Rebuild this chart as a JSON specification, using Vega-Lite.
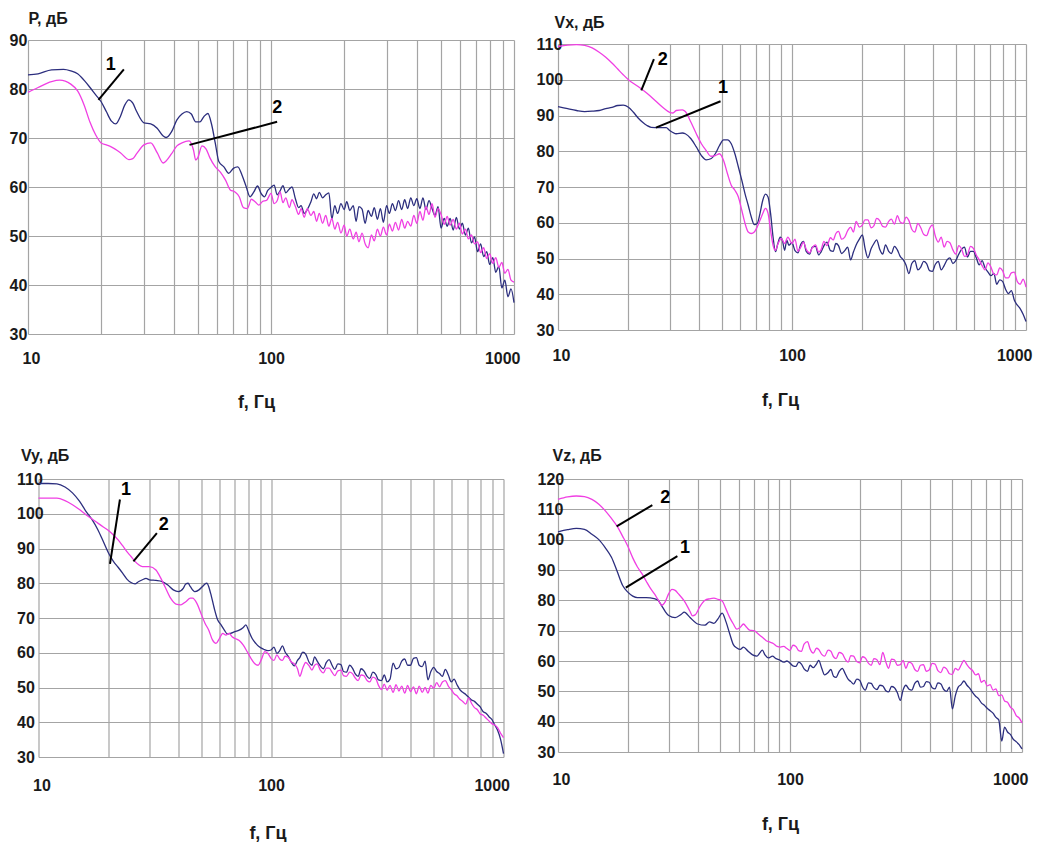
{
"$schema": "https://vega.github.io/schema/vega-lite/v6.json",
"background": "white",
"padding": {"left": 9, "top": 10, "right": 4, "bottom": 0},
"columns": 2,
"spacing": {"column": 44, "row": 145},
"bounds": "flush",
"center": true,
"config": {
 "font": "Liberation Sans",
 "view": {"stroke": null},
 "axis": {"domain": false, "ticks": false, "tickSize": 0, "grid": true, "gridColor": "#a4a4a4", "gridWidth": 1.2, "labelFont": "Liberation Sans", "labelFontSize": 16, "labelFontWeight": "bold", "labelColor": "#1a1a1a", "titleFont": "Liberation Sans", "titleFontSize": 16, "titleFontWeight": "bold", "titleColor": "#1a1a1a", "labelOverlap": false},
 "axisX": {"labelBaseline": "middle", "labelFlush": true, "labelFlushOffset": 6, "titleBaseline": "middle", "titleAlign": "center", "titleFontSize": 18, "labelOverlap": false},
 "axisY": {"labelAlign": "left", "labelBaseline": "middle", "titleAngle": 0, "titleAlign": "left", "titleBaseline": "middle", "labelFlush": false, "labelOverlap": false}
},
"datasets": {
"p": [
{"s":"1","f":10,"v":82.9},{"s":"1","f":11,"v":83.1},{"s":"1","f":12.5,"v":83.9},{"s":"1","f":14,"v":84.0},{"s":"1","f":15,"v":83.7},{"s":"1","f":16,"v":83.1},{"s":"1","f":17,"v":81.8},{"s":"1","f":18,"v":80.3},{"s":"1","f":19,"v":78.8},{"s":"1","f":20,"v":77.4},{"s":"1","f":21,"v":75.4},{"s":"1","f":22,"v":73.5},{"s":"1","f":23,"v":72.9},{"s":"1","f":24,"v":74.4},{"s":"1","f":25,"v":76.7},{"s":"1","f":26,"v":77.8},{"s":"1","f":27,"v":77.1},{"s":"1","f":28,"v":75.4},{"s":"1","f":30,"v":73.1},{"s":"1","f":32,"v":72.9},{"s":"1","f":34,"v":72.0},{"s":"1","f":36,"v":70.4},{"s":"1","f":37,"v":70.1},{"s":"1","f":39,"v":71.3},{"s":"1","f":41,"v":73.7},{"s":"1","f":43,"v":74.9},{"s":"1","f":45,"v":75.4},{"s":"1","f":47,"v":74.9},{"s":"1","f":49,"v":73.3},{"s":"1","f":51,"v":73.3},{"s":"1","f":53,"v":74.4},{"s":"1","f":55,"v":75.0},{"s":"1","f":57,"v":72.7},{"s":"1","f":59,"v":68.9},{"s":"1","f":61,"v":65.2},{"s":"1","f":64,"v":64.1},{"s":"1","f":67,"v":62.8},{"s":"1","f":70,"v":63.8},{"s":"1","f":73,"v":64.1},{"s":"1","f":76,"v":62.4},{"s":"1","f":79,"v":60.1},{"s":"1","f":82,"v":58.0},{"s":"1","f":85,"v":59.0},{"s":"1","f":88,"v":60.2},{"s":"1","f":91,"v":58.7},{"s":"1","f":94,"v":58.0},{"s":"1","f":97,"v":59.3},{"s":"1","f":100,"v":59.9},
{"s":"1","f":103,"v":60.4},{"s":"1","f":106,"v":58.4},{"s":"1","f":109,"v":59.2},{"s":"1","f":112,"v":60.3},{"s":"1","f":115,"v":58.8},{"s":"1","f":119,"v":59.6},{"s":"1","f":122,"v":60.0},{"s":"1","f":126,"v":57.6},{"s":"1","f":130,"v":55.8},{"s":"1","f":133,"v":56.2},{"s":"1","f":137,"v":54.6},{"s":"1","f":141,"v":55.4},{"s":"1","f":146,"v":57.0},{"s":"1","f":150,"v":58.6},{"s":"1","f":154,"v":57.6},{"s":"1","f":158,"v":58.9},{"s":"1","f":163,"v":57.8},{"s":"1","f":168,"v":58.4},{"s":"1","f":173,"v":58.8},{"s":"1","f":178,"v":53.5},{"s":"1","f":183,"v":56.2},{"s":"1","f":188,"v":54.6},{"s":"1","f":194,"v":56.6},{"s":"1","f":200,"v":55.4},{"s":"1","f":205,"v":57.0},{"s":"1","f":211,"v":55.2},{"s":"1","f":218,"v":56.2},{"s":"1","f":224,"v":53.0},{"s":"1","f":230,"v":56.0},{"s":"1","f":237,"v":55.5},{"s":"1","f":244,"v":52.6},{"s":"1","f":251,"v":55.2},{"s":"1","f":259,"v":54.0},{"s":"1","f":266,"v":55.8},{"s":"1","f":274,"v":53.4},{"s":"1","f":282,"v":55.6},{"s":"1","f":290,"v":52.8},{"s":"1","f":299,"v":56.2},{"s":"1","f":307,"v":54.6},{"s":"1","f":316,"v":56.6},{"s":"1","f":325,"v":55.2},{"s":"1","f":335,"v":57.2},{"s":"1","f":345,"v":55.4},{"s":"1","f":355,"v":57.4},{"s":"1","f":365,"v":55.6},{"s":"1","f":376,"v":57.8},{"s":"1","f":387,"v":56.2},{"s":"1","f":398,"v":57.6},{"s":"1","f":410,"v":55.6},{"s":"1","f":422,"v":57.8},{"s":"1","f":434,"v":55.4},{"s":"1","f":447,"v":57.2},{"s":"1","f":460,"v":55.6},{"s":"1","f":473,"v":54.2},{"s":"1","f":487,"v":56.0},{"s":"1","f":501,"v":51.6},{"s":"1","f":516,"v":53.6},{"s":"1","f":531,"v":52.0},{"s":"1","f":546,"v":53.6},{"s":"1","f":562,"v":51.2},{"s":"1","f":579,"v":53.8},{"s":"1","f":596,"v":51.4},{"s":"1","f":613,"v":52.6},{"s":"1","f":631,"v":50.2},{"s":"1","f":649,"v":51.6},{"s":"1","f":668,"v":48.6},{"s":"1","f":688,"v":49.8},{"s":"1","f":708,"v":46.8},{"s":"1","f":729,"v":48.4},{"s":"1","f":750,"v":45.8},{"s":"1","f":772,"v":46.8},{"s":"1","f":794,"v":44.2},{"s":"1","f":818,"v":45.6},{"s":"1","f":841,"v":42.6},{"s":"1","f":866,"v":43.8},{"s":"1","f":891,"v":39.4},{"s":"1","f":917,"v":41.0},{"s":"1","f":944,"v":37.6},{"s":"1","f":972,"v":39.2},{"s":"1","f":1000,"v":36.4},
{"s":"2","f":10,"v":79.3},{"s":"2","f":11,"v":80.3},{"s":"2","f":12.5,"v":81.5},{"s":"2","f":13.5,"v":81.8},{"s":"2","f":15,"v":81.0},{"s":"2","f":16,"v":79.6},{"s":"2","f":17,"v":76.8},{"s":"2","f":18,"v":73.2},{"s":"2","f":19,"v":70.6},{"s":"2","f":20,"v":69.0},{"s":"2","f":21,"v":68.6},{"s":"2","f":22,"v":68.2},{"s":"2","f":24,"v":67.0},{"s":"2","f":26,"v":65.6},{"s":"2","f":27,"v":65.8},{"s":"2","f":28,"v":66.8},{"s":"2","f":30,"v":68.6},{"s":"2","f":32,"v":69.0},{"s":"2","f":34,"v":67.0},{"s":"2","f":36,"v":64.9},{"s":"2","f":37,"v":65.3},{"s":"2","f":39,"v":66.8},{"s":"2","f":41,"v":68.4},{"s":"2","f":43,"v":69.0},{"s":"2","f":46,"v":69.4},{"s":"2","f":48,"v":67.5},{"s":"2","f":49,"v":65.5},{"s":"2","f":50,"v":66.0},{"s":"2","f":52,"v":68.4},{"s":"2","f":54,"v":67.8},{"s":"2","f":56,"v":66.0},{"s":"2","f":59,"v":64.1},{"s":"2","f":62,"v":63.0},{"s":"2","f":65,"v":61.4},{"s":"2","f":68,"v":59.4},{"s":"2","f":71,"v":59.0},{"s":"2","f":74,"v":58.0},{"s":"2","f":77,"v":55.8},{"s":"2","f":80,"v":55.6},{"s":"2","f":83,"v":57.5},{"s":"2","f":86,"v":57.0},{"s":"2","f":89,"v":56.3},{"s":"2","f":92,"v":57.0},{"s":"2","f":96,"v":57.3},{"s":"2","f":100,"v":58.7},
{"s":"2","f":103,"v":56.6},{"s":"2","f":106,"v":57.2},{"s":"2","f":109,"v":59.0},{"s":"2","f":112,"v":56.8},{"s":"2","f":115,"v":57.8},{"s":"2","f":119,"v":55.8},{"s":"2","f":122,"v":57.4},{"s":"2","f":126,"v":56.0},{"s":"2","f":130,"v":54.4},{"s":"2","f":133,"v":55.6},{"s":"2","f":137,"v":53.8},{"s":"2","f":141,"v":55.6},{"s":"2","f":146,"v":54.2},{"s":"2","f":150,"v":55.0},{"s":"2","f":154,"v":53.0},{"s":"2","f":158,"v":54.6},{"s":"2","f":163,"v":52.6},{"s":"2","f":168,"v":54.2},{"s":"2","f":173,"v":52.0},{"s":"2","f":178,"v":53.6},{"s":"2","f":183,"v":51.4},{"s":"2","f":188,"v":52.8},{"s":"2","f":194,"v":50.6},{"s":"2","f":200,"v":52.2},{"s":"2","f":205,"v":50.0},{"s":"2","f":211,"v":51.4},{"s":"2","f":218,"v":49.4},{"s":"2","f":224,"v":50.8},{"s":"2","f":230,"v":48.8},{"s":"2","f":237,"v":50.6},{"s":"2","f":244,"v":48.4},{"s":"2","f":251,"v":47.6},{"s":"2","f":259,"v":50.2},{"s":"2","f":266,"v":49.0},{"s":"2","f":274,"v":51.4},{"s":"2","f":282,"v":50.0},{"s":"2","f":290,"v":51.8},{"s":"2","f":299,"v":50.2},{"s":"2","f":307,"v":52.4},{"s":"2","f":316,"v":51.0},{"s":"2","f":325,"v":52.8},{"s":"2","f":335,"v":51.2},{"s":"2","f":345,"v":53.4},{"s":"2","f":355,"v":51.6},{"s":"2","f":365,"v":53.0},{"s":"2","f":376,"v":52.0},{"s":"2","f":387,"v":54.2},{"s":"2","f":398,"v":52.6},{"s":"2","f":410,"v":55.0},{"s":"2","f":422,"v":53.2},{"s":"2","f":434,"v":56.0},{"s":"2","f":447,"v":54.4},{"s":"2","f":460,"v":56.6},{"s":"2","f":473,"v":53.8},{"s":"2","f":487,"v":55.6},{"s":"2","f":501,"v":54.4},{"s":"2","f":516,"v":52.4},{"s":"2","f":531,"v":54.0},{"s":"2","f":546,"v":52.2},{"s":"2","f":562,"v":53.4},{"s":"2","f":579,"v":51.4},{"s":"2","f":596,"v":52.6},{"s":"2","f":613,"v":50.4},{"s":"2","f":631,"v":51.4},{"s":"2","f":649,"v":49.4},{"s":"2","f":668,"v":50.2},{"s":"2","f":688,"v":48.4},{"s":"2","f":708,"v":48.8},{"s":"2","f":729,"v":46.6},{"s":"2","f":750,"v":47.6},{"s":"2","f":772,"v":45.4},{"s":"2","f":794,"v":46.4},{"s":"2","f":818,"v":44.4},{"s":"2","f":841,"v":45.6},{"s":"2","f":866,"v":43.6},{"s":"2","f":891,"v":44.6},{"s":"2","f":917,"v":42.4},{"s":"2","f":944,"v":43.2},{"s":"2","f":972,"v":41.0},{"s":"2","f":1000,"v":40.6}
],
"vx": [
{"s":"1","f":10,"v":92.5},{"s":"1","f":11,"v":91.9},{"s":"1","f":12,"v":91.4},{"s":"1","f":13,"v":91.1},{"s":"1","f":14,"v":91.2},{"s":"1","f":15,"v":91.4},{"s":"1","f":16,"v":91.9},{"s":"1","f":17,"v":92.3},{"s":"1","f":18,"v":92.8},{"s":"1","f":19,"v":92.9},{"s":"1","f":20,"v":92.3},{"s":"1","f":21,"v":90.9},{"s":"1","f":22,"v":89.3},{"s":"1","f":23,"v":88.1},{"s":"1","f":24,"v":87.2},{"s":"1","f":25,"v":86.7},{"s":"1","f":27,"v":86.6},{"s":"1","f":29,"v":86.6},{"s":"1","f":30,"v":85.8},{"s":"1","f":32,"v":84.9},{"s":"1","f":34,"v":85.1},{"s":"1","f":35,"v":84.9},{"s":"1","f":37,"v":83.5},{"s":"1","f":39,"v":81.2},{"s":"1","f":41,"v":78.8},{"s":"1","f":43,"v":77.6},{"s":"1","f":45,"v":77.9},{"s":"1","f":47,"v":79.3},{"s":"1","f":49,"v":81.6},{"s":"1","f":51,"v":83.2},{"s":"1","f":53,"v":83.2},{"s":"1","f":55,"v":82.1},{"s":"1","f":57,"v":79.3},{"s":"1","f":59,"v":75.6},{"s":"1","f":61,"v":71.9},{"s":"1","f":63,"v":68.1},{"s":"1","f":65,"v":64.9},{"s":"1","f":67,"v":61.6},{"s":"1","f":69,"v":59.5},{"s":"1","f":71,"v":59.8},{"s":"1","f":73,"v":62.6},{"s":"1","f":75,"v":66.3},{"s":"1","f":77,"v":68.0},{"s":"1","f":79,"v":67.2},{"s":"1","f":81,"v":62.6},{"s":"1","f":83,"v":56.0},{"s":"1","f":85,"v":51.9},{"s":"1","f":87,"v":54.2},{"s":"1","f":89,"v":56.0},{"s":"1","f":91,"v":55.1},{"s":"1","f":93,"v":52.3},{"s":"1","f":95,"v":55.1},{"s":"1","f":97,"v":53.7},{"s":"1","f":100,"v":54.4},
{"s":"1","f":103,"v":52.2},{"s":"1","f":106,"v":51.6},{"s":"1","f":109,"v":54.0},{"s":"1","f":112,"v":54.8},{"s":"1","f":115,"v":52.0},{"s":"1","f":119,"v":51.2},{"s":"1","f":122,"v":53.2},{"s":"1","f":126,"v":53.4},{"s":"1","f":130,"v":51.0},{"s":"1","f":133,"v":51.8},{"s":"1","f":137,"v":53.6},{"s":"1","f":141,"v":54.6},{"s":"1","f":146,"v":52.2},{"s":"1","f":150,"v":52.0},{"s":"1","f":154,"v":54.2},{"s":"1","f":158,"v":53.6},{"s":"1","f":163,"v":51.4},{"s":"1","f":168,"v":52.2},{"s":"1","f":173,"v":53.2},{"s":"1","f":178,"v":49.6},{"s":"1","f":183,"v":51.8},{"s":"1","f":188,"v":53.8},{"s":"1","f":194,"v":55.4},{"s":"1","f":200,"v":56.6},{"s":"1","f":205,"v":53.0},{"s":"1","f":211,"v":50.2},{"s":"1","f":218,"v":52.8},{"s":"1","f":224,"v":54.2},{"s":"1","f":230,"v":55.2},{"s":"1","f":237,"v":52.6},{"s":"1","f":244,"v":51.2},{"s":"1","f":251,"v":53.8},{"s":"1","f":259,"v":52.0},{"s":"1","f":266,"v":51.4},{"s":"1","f":274,"v":53.4},{"s":"1","f":282,"v":52.4},{"s":"1","f":290,"v":50.6},{"s":"1","f":299,"v":49.6},{"s":"1","f":307,"v":48.2},{"s":"1","f":316,"v":45.8},{"s":"1","f":325,"v":48.6},{"s":"1","f":335,"v":49.4},{"s":"1","f":345,"v":46.8},{"s":"1","f":355,"v":47.6},{"s":"1","f":365,"v":49.2},{"s":"1","f":376,"v":48.6},{"s":"1","f":387,"v":46.6},{"s":"1","f":398,"v":46.4},{"s":"1","f":410,"v":48.4},{"s":"1","f":422,"v":49.2},{"s":"1","f":434,"v":46.8},{"s":"1","f":447,"v":48.0},{"s":"1","f":460,"v":49.6},{"s":"1","f":473,"v":50.2},{"s":"1","f":487,"v":48.6},{"s":"1","f":501,"v":49.4},{"s":"1","f":516,"v":51.2},{"s":"1","f":531,"v":52.6},{"s":"1","f":546,"v":53.2},{"s":"1","f":562,"v":50.4},{"s":"1","f":579,"v":52.0},{"s":"1","f":596,"v":52.0},{"s":"1","f":613,"v":50.2},{"s":"1","f":631,"v":48.2},{"s":"1","f":649,"v":49.4},{"s":"1","f":668,"v":47.4},{"s":"1","f":688,"v":46.2},{"s":"1","f":708,"v":45.2},{"s":"1","f":729,"v":45.8},{"s":"1","f":750,"v":42.8},{"s":"1","f":772,"v":44.0},{"s":"1","f":794,"v":43.6},{"s":"1","f":818,"v":41.4},{"s":"1","f":841,"v":40.2},{"s":"1","f":866,"v":41.0},{"s":"1","f":891,"v":38.4},{"s":"1","f":917,"v":37.0},{"s":"1","f":944,"v":36.0},{"s":"1","f":972,"v":34.4},{"s":"1","f":1000,"v":32.4},
{"s":"2","f":10,"v":109.3},{"s":"2","f":11,"v":109.7},{"s":"2","f":12,"v":109.8},{"s":"2","f":13,"v":109.6},{"s":"2","f":14,"v":108.9},{"s":"2","f":15,"v":107.7},{"s":"2","f":16,"v":106.3},{"s":"2","f":17,"v":104.7},{"s":"2","f":18,"v":103.0},{"s":"2","f":19,"v":101.4},{"s":"2","f":20,"v":100.0},{"s":"2","f":22,"v":98.1},{"s":"2","f":24,"v":96.2},{"s":"2","f":26,"v":94.2},{"s":"2","f":28,"v":92.3},{"s":"2","f":30,"v":90.9},{"s":"2","f":31,"v":90.7},{"s":"2","f":32,"v":91.4},{"s":"2","f":34,"v":91.6},{"s":"2","f":35,"v":91.1},{"s":"2","f":37,"v":88.1},{"s":"2","f":39,"v":84.9},{"s":"2","f":41,"v":82.1},{"s":"2","f":43,"v":80.2},{"s":"2","f":45,"v":78.6},{"s":"2","f":47,"v":78.8},{"s":"2","f":49,"v":79.3},{"s":"2","f":51,"v":77.4},{"s":"2","f":53,"v":73.7},{"s":"2","f":55,"v":70.5},{"s":"2","f":57,"v":69.1},{"s":"2","f":59,"v":67.2},{"s":"2","f":61,"v":63.5},{"s":"2","f":63,"v":59.8},{"s":"2","f":65,"v":57.4},{"s":"2","f":67,"v":57.0},{"s":"2","f":69,"v":57.4},{"s":"2","f":71,"v":58.8},{"s":"2","f":73,"v":60.7},{"s":"2","f":75,"v":62.6},{"s":"2","f":77,"v":64.0},{"s":"2","f":79,"v":62.6},{"s":"2","f":81,"v":57.9},{"s":"2","f":83,"v":53.7},{"s":"2","f":85,"v":52.3},{"s":"2","f":87,"v":54.0},{"s":"2","f":90,"v":55.6},{"s":"2","f":93,"v":54.2},{"s":"2","f":96,"v":56.0},{"s":"2","f":100,"v":54.2},
{"s":"2","f":103,"v":55.4},{"s":"2","f":106,"v":52.0},{"s":"2","f":109,"v":53.2},{"s":"2","f":112,"v":54.6},{"s":"2","f":115,"v":52.6},{"s":"2","f":119,"v":51.6},{"s":"2","f":122,"v":53.0},{"s":"2","f":126,"v":53.8},{"s":"2","f":130,"v":51.8},{"s":"2","f":133,"v":52.4},{"s":"2","f":137,"v":54.8},{"s":"2","f":141,"v":53.6},{"s":"2","f":146,"v":55.8},{"s":"2","f":150,"v":55.2},{"s":"2","f":154,"v":57.0},{"s":"2","f":158,"v":57.6},{"s":"2","f":163,"v":55.4},{"s":"2","f":168,"v":56.0},{"s":"2","f":173,"v":57.8},{"s":"2","f":178,"v":58.8},{"s":"2","f":183,"v":57.4},{"s":"2","f":188,"v":60.4},{"s":"2","f":194,"v":58.8},{"s":"2","f":200,"v":59.4},{"s":"2","f":205,"v":60.8},{"s":"2","f":211,"v":60.8},{"s":"2","f":218,"v":58.6},{"s":"2","f":224,"v":59.2},{"s":"2","f":230,"v":61.2},{"s":"2","f":237,"v":60.6},{"s":"2","f":244,"v":59.0},{"s":"2","f":251,"v":58.8},{"s":"2","f":259,"v":60.4},{"s":"2","f":266,"v":61.0},{"s":"2","f":274,"v":59.6},{"s":"2","f":282,"v":62.0},{"s":"2","f":290,"v":60.2},{"s":"2","f":299,"v":59.8},{"s":"2","f":307,"v":61.6},{"s":"2","f":316,"v":60.6},{"s":"2","f":325,"v":58.2},{"s":"2","f":335,"v":57.4},{"s":"2","f":345,"v":59.8},{"s":"2","f":355,"v":58.6},{"s":"2","f":365,"v":56.8},{"s":"2","f":376,"v":56.4},{"s":"2","f":387,"v":58.4},{"s":"2","f":398,"v":59.4},{"s":"2","f":410,"v":56.2},{"s":"2","f":422,"v":54.6},{"s":"2","f":434,"v":56.0},{"s":"2","f":447,"v":53.2},{"s":"2","f":460,"v":54.8},{"s":"2","f":473,"v":54.4},{"s":"2","f":487,"v":52.4},{"s":"2","f":501,"v":51.2},{"s":"2","f":516,"v":53.6},{"s":"2","f":531,"v":52.6},{"s":"2","f":546,"v":50.6},{"s":"2","f":562,"v":51.0},{"s":"2","f":579,"v":53.4},{"s":"2","f":596,"v":52.8},{"s":"2","f":613,"v":51.0},{"s":"2","f":631,"v":49.6},{"s":"2","f":649,"v":48.0},{"s":"2","f":668,"v":46.8},{"s":"2","f":688,"v":48.8},{"s":"2","f":708,"v":47.6},{"s":"2","f":729,"v":45.6},{"s":"2","f":750,"v":45.4},{"s":"2","f":772,"v":47.4},{"s":"2","f":794,"v":46.6},{"s":"2","f":818,"v":44.6},{"s":"2","f":841,"v":44.6},{"s":"2","f":866,"v":46.0},{"s":"2","f":891,"v":46.2},{"s":"2","f":917,"v":43.6},{"s":"2","f":944,"v":42.8},{"s":"2","f":972,"v":44.2},{"s":"2","f":1000,"v":42.0}
],
"vy": [
{"s":"1","f":10,"v":108.7},{"s":"1","f":11,"v":108.7},{"s":"1","f":12,"v":108.6},{"s":"1","f":13,"v":107.7},{"s":"1","f":14,"v":106.0},{"s":"1","f":15,"v":103.6},{"s":"1","f":16,"v":100.7},{"s":"1","f":17,"v":98.3},{"s":"1","f":18,"v":95.4},{"s":"1","f":19,"v":92.0},{"s":"1","f":20,"v":88.7},{"s":"1","f":21,"v":86.3},{"s":"1","f":22,"v":84.6},{"s":"1","f":23,"v":82.9},{"s":"1","f":24,"v":81.2},{"s":"1","f":25,"v":80.2},{"s":"1","f":26,"v":79.8},{"s":"1","f":27,"v":80.5},{"s":"1","f":28,"v":81.0},{"s":"1","f":29,"v":81.4},{"s":"1","f":30,"v":81.0},{"s":"1","f":32,"v":80.8},{"s":"1","f":34,"v":80.5},{"s":"1","f":36,"v":79.5},{"s":"1","f":38,"v":78.1},{"s":"1","f":40,"v":77.6},{"s":"1","f":42,"v":78.6},{"s":"1","f":43,"v":79.8},{"s":"1","f":44,"v":80.0},{"s":"1","f":45,"v":79.0},{"s":"1","f":47,"v":77.6},{"s":"1","f":49,"v":78.1},{"s":"1","f":51,"v":79.2},{"s":"1","f":52,"v":79.8},{"s":"1","f":53,"v":80.0},{"s":"1","f":55,"v":77.1},{"s":"1","f":57,"v":72.8},{"s":"1","f":59,"v":69.4},{"s":"1","f":61,"v":68.0},{"s":"1","f":63,"v":66.5},{"s":"1","f":65,"v":65.4},{"s":"1","f":67,"v":65.6},{"s":"1","f":70,"v":66.1},{"s":"1","f":73,"v":66.5},{"s":"1","f":76,"v":67.3},{"s":"1","f":78,"v":68.0},{"s":"1","f":80,"v":66.5},{"s":"1","f":83,"v":64.1},{"s":"1","f":86,"v":62.7},{"s":"1","f":89,"v":61.7},{"s":"1","f":93,"v":61.0},{"s":"1","f":97,"v":60.6},{"s":"1","f":100,"v":60.8},
{"s":"1","f":103,"v":61.6},{"s":"1","f":106,"v":59.8},{"s":"1","f":109,"v":60.6},{"s":"1","f":112,"v":62.0},{"s":"1","f":115,"v":60.2},{"s":"1","f":119,"v":58.8},{"s":"1","f":122,"v":57.4},{"s":"1","f":126,"v":56.2},{"s":"1","f":130,"v":57.8},{"s":"1","f":133,"v":58.6},{"s":"1","f":137,"v":60.2},{"s":"1","f":141,"v":59.6},{"s":"1","f":146,"v":57.2},{"s":"1","f":150,"v":56.4},{"s":"1","f":154,"v":58.8},{"s":"1","f":158,"v":57.6},{"s":"1","f":163,"v":56.2},{"s":"1","f":168,"v":55.4},{"s":"1","f":173,"v":57.2},{"s":"1","f":178,"v":58.0},{"s":"1","f":183,"v":56.4},{"s":"1","f":188,"v":55.2},{"s":"1","f":194,"v":56.8},{"s":"1","f":200,"v":56.6},{"s":"1","f":205,"v":54.6},{"s":"1","f":211,"v":54.4},{"s":"1","f":218,"v":56.4},{"s":"1","f":224,"v":55.6},{"s":"1","f":230,"v":54.0},{"s":"1","f":237,"v":53.2},{"s":"1","f":244,"v":55.4},{"s":"1","f":251,"v":54.8},{"s":"1","f":259,"v":53.2},{"s":"1","f":266,"v":52.6},{"s":"1","f":274,"v":54.4},{"s":"1","f":282,"v":53.8},{"s":"1","f":290,"v":52.2},{"s":"1","f":299,"v":52.0},{"s":"1","f":307,"v":53.6},{"s":"1","f":316,"v":51.6},{"s":"1","f":325,"v":52.4},{"s":"1","f":335,"v":57.0},{"s":"1","f":345,"v":55.4},{"s":"1","f":355,"v":55.8},{"s":"1","f":365,"v":57.6},{"s":"1","f":376,"v":58.2},{"s":"1","f":387,"v":56.4},{"s":"1","f":398,"v":56.4},{"s":"1","f":410,"v":58.4},{"s":"1","f":422,"v":58.6},{"s":"1","f":434,"v":56.4},{"s":"1","f":447,"v":56.0},{"s":"1","f":460,"v":57.6},{"s":"1","f":473,"v":52.2},{"s":"1","f":487,"v":54.6},{"s":"1","f":501,"v":55.8},{"s":"1","f":516,"v":54.6},{"s":"1","f":531,"v":54.0},{"s":"1","f":546,"v":53.2},{"s":"1","f":562,"v":55.2},{"s":"1","f":579,"v":53.6},{"s":"1","f":596,"v":51.6},{"s":"1","f":613,"v":52.4},{"s":"1","f":631,"v":50.8},{"s":"1","f":649,"v":49.4},{"s":"1","f":668,"v":48.6},{"s":"1","f":688,"v":48.0},{"s":"1","f":708,"v":47.2},{"s":"1","f":729,"v":46.4},{"s":"1","f":750,"v":46.0},{"s":"1","f":772,"v":45.2},{"s":"1","f":794,"v":44.4},{"s":"1","f":818,"v":43.0},{"s":"1","f":841,"v":42.6},{"s":"1","f":866,"v":41.6},{"s":"1","f":891,"v":40.8},{"s":"1","f":917,"v":39.2},{"s":"1","f":944,"v":37.6},{"s":"1","f":972,"v":35.0},{"s":"1","f":1000,"v":31.0},
{"s":"2","f":10,"v":104.5},{"s":"2","f":11,"v":104.5},{"s":"2","f":12,"v":104.5},{"s":"2","f":13,"v":103.8},{"s":"2","f":14,"v":102.6},{"s":"2","f":15,"v":101.2},{"s":"2","f":16,"v":99.7},{"s":"2","f":17,"v":98.5},{"s":"2","f":18,"v":97.3},{"s":"2","f":19,"v":96.2},{"s":"2","f":20,"v":95.2},{"s":"2","f":21,"v":93.9},{"s":"2","f":22,"v":92.5},{"s":"2","f":23,"v":90.8},{"s":"2","f":24,"v":89.1},{"s":"2","f":25,"v":87.7},{"s":"2","f":26,"v":86.3},{"s":"2","f":27,"v":85.3},{"s":"2","f":28,"v":84.8},{"s":"2","f":30,"v":84.8},{"s":"2","f":32,"v":83.8},{"s":"2","f":33,"v":82.4},{"s":"2","f":35,"v":79.0},{"s":"2","f":37,"v":75.7},{"s":"2","f":39,"v":74.0},{"s":"2","f":41,"v":73.8},{"s":"2","f":43,"v":74.7},{"s":"2","f":45,"v":75.7},{"s":"2","f":46,"v":75.7},{"s":"2","f":48,"v":74.2},{"s":"2","f":50,"v":71.3},{"s":"2","f":52,"v":68.5},{"s":"2","f":54,"v":66.5},{"s":"2","f":56,"v":63.7},{"s":"2","f":58,"v":62.7},{"s":"2","f":60,"v":64.1},{"s":"2","f":62,"v":65.6},{"s":"2","f":64,"v":65.1},{"s":"2","f":66,"v":65.6},{"s":"2","f":68,"v":64.6},{"s":"2","f":70,"v":64.1},{"s":"2","f":73,"v":63.5},{"s":"2","f":76,"v":62.2},{"s":"2","f":79,"v":60.3},{"s":"2","f":82,"v":58.4},{"s":"2","f":85,"v":56.9},{"s":"2","f":88,"v":56.4},{"s":"2","f":91,"v":58.1},{"s":"2","f":94,"v":60.3},{"s":"2","f":97,"v":59.8},{"s":"2","f":100,"v":58.4},
{"s":"2","f":103,"v":57.8},{"s":"2","f":106,"v":59.4},{"s":"2","f":109,"v":58.2},{"s":"2","f":112,"v":57.8},{"s":"2","f":115,"v":59.0},{"s":"2","f":119,"v":58.6},{"s":"2","f":122,"v":57.4},{"s":"2","f":126,"v":56.8},{"s":"2","f":130,"v":55.4},{"s":"2","f":133,"v":53.2},{"s":"2","f":137,"v":55.6},{"s":"2","f":141,"v":57.2},{"s":"2","f":146,"v":56.2},{"s":"2","f":150,"v":55.0},{"s":"2","f":154,"v":56.4},{"s":"2","f":158,"v":56.8},{"s":"2","f":163,"v":55.0},{"s":"2","f":168,"v":54.2},{"s":"2","f":173,"v":55.6},{"s":"2","f":178,"v":55.6},{"s":"2","f":183,"v":54.4},{"s":"2","f":188,"v":53.4},{"s":"2","f":194,"v":54.8},{"s":"2","f":200,"v":55.0},{"s":"2","f":205,"v":53.4},{"s":"2","f":211,"v":53.2},{"s":"2","f":218,"v":54.4},{"s":"2","f":224,"v":54.0},{"s":"2","f":230,"v":52.8},{"s":"2","f":237,"v":52.0},{"s":"2","f":244,"v":53.6},{"s":"2","f":251,"v":53.4},{"s":"2","f":259,"v":52.0},{"s":"2","f":266,"v":51.6},{"s":"2","f":274,"v":53.0},{"s":"2","f":282,"v":52.6},{"s":"2","f":290,"v":50.6},{"s":"2","f":299,"v":49.4},{"s":"2","f":307,"v":51.0},{"s":"2","f":316,"v":49.2},{"s":"2","f":325,"v":50.6},{"s":"2","f":335,"v":48.6},{"s":"2","f":345,"v":50.8},{"s":"2","f":355,"v":49.0},{"s":"2","f":365,"v":50.4},{"s":"2","f":376,"v":48.4},{"s":"2","f":387,"v":50.6},{"s":"2","f":398,"v":48.8},{"s":"2","f":410,"v":50.2},{"s":"2","f":422,"v":48.2},{"s":"2","f":434,"v":50.4},{"s":"2","f":447,"v":48.6},{"s":"2","f":460,"v":50.0},{"s":"2","f":473,"v":48.4},{"s":"2","f":487,"v":50.6},{"s":"2","f":501,"v":49.8},{"s":"2","f":516,"v":51.4},{"s":"2","f":531,"v":50.2},{"s":"2","f":546,"v":51.6},{"s":"2","f":562,"v":52.0},{"s":"2","f":579,"v":50.4},{"s":"2","f":596,"v":49.4},{"s":"2","f":613,"v":48.2},{"s":"2","f":631,"v":47.6},{"s":"2","f":649,"v":46.6},{"s":"2","f":668,"v":46.0},{"s":"2","f":688,"v":45.2},{"s":"2","f":708,"v":47.0},{"s":"2","f":729,"v":45.4},{"s":"2","f":750,"v":44.2},{"s":"2","f":772,"v":43.6},{"s":"2","f":794,"v":42.4},{"s":"2","f":818,"v":42.0},{"s":"2","f":841,"v":41.2},{"s":"2","f":866,"v":40.4},{"s":"2","f":891,"v":39.6},{"s":"2","f":917,"v":39.2},{"s":"2","f":944,"v":38.4},{"s":"2","f":972,"v":36.8},{"s":"2","f":1000,"v":35.6}
],
"vz": [
{"s":"1","f":10,"v":102.6},{"s":"1","f":11,"v":103.3},{"s":"1","f":12,"v":103.7},{"s":"1","f":13,"v":103.4},{"s":"1","f":14,"v":101.8},{"s":"1","f":15,"v":100.0},{"s":"1","f":16,"v":97.3},{"s":"1","f":17,"v":94.2},{"s":"1","f":18,"v":89.5},{"s":"1","f":19,"v":84.9},{"s":"1","f":20,"v":82.7},{"s":"1","f":21,"v":81.4},{"s":"1","f":22,"v":80.9},{"s":"1","f":24,"v":80.9},{"s":"1","f":26,"v":80.6},{"s":"1","f":27,"v":80.0},{"s":"1","f":28,"v":78.2},{"s":"1","f":29,"v":76.3},{"s":"1","f":30,"v":75.0},{"s":"1","f":32,"v":74.3},{"s":"1","f":34,"v":75.4},{"s":"1","f":35,"v":76.1},{"s":"1","f":37,"v":74.4},{"s":"1","f":40,"v":72.2},{"s":"1","f":43,"v":71.8},{"s":"1","f":45,"v":72.9},{"s":"1","f":47,"v":72.4},{"s":"1","f":49,"v":74.0},{"s":"1","f":51,"v":75.8},{"s":"1","f":53,"v":72.9},{"s":"1","f":55,"v":68.9},{"s":"1","f":57,"v":65.4},{"s":"1","f":59,"v":64.3},{"s":"1","f":61,"v":63.8},{"s":"1","f":63,"v":64.6},{"s":"1","f":66,"v":63.2},{"s":"1","f":69,"v":62.0},{"s":"1","f":72,"v":61.6},{"s":"1","f":74,"v":62.6},{"s":"1","f":76,"v":63.6},{"s":"1","f":78,"v":62.0},{"s":"1","f":81,"v":61.0},{"s":"1","f":84,"v":61.6},{"s":"1","f":87,"v":60.8},{"s":"1","f":90,"v":60.4},{"s":"1","f":94,"v":59.6},{"s":"1","f":97,"v":60.0},{"s":"1","f":100,"v":59.3},
{"s":"1","f":103,"v":58.4},{"s":"1","f":106,"v":58.2},{"s":"1","f":109,"v":59.6},{"s":"1","f":112,"v":59.0},{"s":"1","f":115,"v":57.4},{"s":"1","f":119,"v":56.6},{"s":"1","f":122,"v":58.6},{"s":"1","f":126,"v":57.8},{"s":"1","f":130,"v":59.0},{"s":"1","f":133,"v":60.2},{"s":"1","f":137,"v":57.6},{"s":"1","f":141,"v":55.4},{"s":"1","f":146,"v":56.2},{"s":"1","f":150,"v":57.2},{"s":"1","f":154,"v":55.0},{"s":"1","f":158,"v":54.6},{"s":"1","f":163,"v":56.6},{"s":"1","f":168,"v":57.6},{"s":"1","f":173,"v":55.8},{"s":"1","f":178,"v":54.0},{"s":"1","f":183,"v":53.2},{"s":"1","f":188,"v":52.4},{"s":"1","f":194,"v":54.0},{"s":"1","f":200,"v":53.6},{"s":"1","f":205,"v":51.6},{"s":"1","f":211,"v":50.4},{"s":"1","f":218,"v":52.8},{"s":"1","f":224,"v":52.6},{"s":"1","f":230,"v":51.2},{"s":"1","f":237,"v":50.6},{"s":"1","f":244,"v":52.0},{"s":"1","f":251,"v":51.8},{"s":"1","f":259,"v":50.2},{"s":"1","f":266,"v":49.8},{"s":"1","f":274,"v":51.6},{"s":"1","f":282,"v":51.2},{"s":"1","f":290,"v":49.6},{"s":"1","f":299,"v":47.0},{"s":"1","f":307,"v":50.4},{"s":"1","f":316,"v":52.0},{"s":"1","f":325,"v":50.8},{"s":"1","f":335,"v":50.4},{"s":"1","f":345,"v":52.6},{"s":"1","f":355,"v":53.4},{"s":"1","f":365,"v":51.4},{"s":"1","f":376,"v":51.6},{"s":"1","f":387,"v":53.2},{"s":"1","f":398,"v":53.0},{"s":"1","f":410,"v":51.2},{"s":"1","f":422,"v":50.8},{"s":"1","f":434,"v":52.8},{"s":"1","f":447,"v":52.4},{"s":"1","f":460,"v":50.6},{"s":"1","f":473,"v":50.0},{"s":"1","f":487,"v":51.4},{"s":"1","f":501,"v":44.2},{"s":"1","f":516,"v":48.6},{"s":"1","f":531,"v":51.4},{"s":"1","f":546,"v":52.2},{"s":"1","f":562,"v":53.4},{"s":"1","f":579,"v":52.0},{"s":"1","f":596,"v":51.0},{"s":"1","f":613,"v":49.6},{"s":"1","f":631,"v":48.4},{"s":"1","f":649,"v":47.6},{"s":"1","f":668,"v":46.2},{"s":"1","f":688,"v":45.4},{"s":"1","f":708,"v":44.4},{"s":"1","f":729,"v":43.6},{"s":"1","f":750,"v":42.8},{"s":"1","f":772,"v":41.4},{"s":"1","f":794,"v":40.6},{"s":"1","f":818,"v":33.6},{"s":"1","f":841,"v":38.2},{"s":"1","f":866,"v":36.6},{"s":"1","f":891,"v":35.8},{"s":"1","f":917,"v":34.2},{"s":"1","f":944,"v":33.4},{"s":"1","f":972,"v":32.4},{"s":"1","f":1000,"v":31.0},
{"s":"2","f":10,"v":113.3},{"s":"2","f":11,"v":114.1},{"s":"2","f":12,"v":114.4},{"s":"2","f":13,"v":114.2},{"s":"2","f":14,"v":113.3},{"s":"2","f":15,"v":111.7},{"s":"2","f":16,"v":109.5},{"s":"2","f":17,"v":107.0},{"s":"2","f":18,"v":104.4},{"s":"2","f":19,"v":101.1},{"s":"2","f":20,"v":97.8},{"s":"2","f":21,"v":94.0},{"s":"2","f":22,"v":91.0},{"s":"2","f":23,"v":88.8},{"s":"2","f":24,"v":86.3},{"s":"2","f":25,"v":84.0},{"s":"2","f":26,"v":82.2},{"s":"2","f":27,"v":80.2},{"s":"2","f":28,"v":78.4},{"s":"2","f":29,"v":79.6},{"s":"2","f":30,"v":82.2},{"s":"2","f":31,"v":83.6},{"s":"2","f":32,"v":83.3},{"s":"2","f":33,"v":82.2},{"s":"2","f":35,"v":79.8},{"s":"2","f":37,"v":76.5},{"s":"2","f":38,"v":74.9},{"s":"2","f":39,"v":75.2},{"s":"2","f":41,"v":78.1},{"s":"2","f":43,"v":80.0},{"s":"2","f":45,"v":80.5},{"s":"2","f":47,"v":80.7},{"s":"2","f":49,"v":80.3},{"s":"2","f":51,"v":79.8},{"s":"2","f":53,"v":77.1},{"s":"2","f":55,"v":74.3},{"s":"2","f":57,"v":72.2},{"s":"2","f":59,"v":70.5},{"s":"2","f":61,"v":71.1},{"s":"2","f":63,"v":72.2},{"s":"2","f":65,"v":71.1},{"s":"2","f":67,"v":70.2},{"s":"2","f":70,"v":70.0},{"s":"2","f":73,"v":68.9},{"s":"2","f":76,"v":67.8},{"s":"2","f":79,"v":66.7},{"s":"2","f":82,"v":66.2},{"s":"2","f":85,"v":65.7},{"s":"2","f":88,"v":64.8},{"s":"2","f":91,"v":64.6},{"s":"2","f":94,"v":64.8},{"s":"2","f":97,"v":64.1},{"s":"2","f":100,"v":63.5},
{"s":"2","f":103,"v":65.2},{"s":"2","f":106,"v":64.8},{"s":"2","f":109,"v":63.4},{"s":"2","f":112,"v":63.2},{"s":"2","f":115,"v":65.6},{"s":"2","f":119,"v":66.4},{"s":"2","f":122,"v":64.0},{"s":"2","f":126,"v":62.6},{"s":"2","f":130,"v":64.2},{"s":"2","f":133,"v":63.8},{"s":"2","f":137,"v":62.2},{"s":"2","f":141,"v":61.6},{"s":"2","f":146,"v":63.6},{"s":"2","f":150,"v":63.2},{"s":"2","f":154,"v":61.4},{"s":"2","f":158,"v":60.8},{"s":"2","f":163,"v":62.8},{"s":"2","f":168,"v":62.4},{"s":"2","f":173,"v":60.6},{"s":"2","f":178,"v":59.6},{"s":"2","f":183,"v":61.8},{"s":"2","f":188,"v":61.6},{"s":"2","f":194,"v":59.8},{"s":"2","f":200,"v":59.4},{"s":"2","f":205,"v":61.4},{"s":"2","f":211,"v":61.0},{"s":"2","f":218,"v":59.2},{"s":"2","f":224,"v":58.6},{"s":"2","f":230,"v":60.8},{"s":"2","f":237,"v":60.4},{"s":"2","f":244,"v":58.8},{"s":"2","f":251,"v":62.8},{"s":"2","f":259,"v":59.6},{"s":"2","f":266,"v":57.6},{"s":"2","f":274,"v":60.6},{"s":"2","f":282,"v":60.4},{"s":"2","f":290,"v":58.6},{"s":"2","f":299,"v":58.8},{"s":"2","f":307,"v":60.2},{"s":"2","f":316,"v":57.6},{"s":"2","f":325,"v":59.6},{"s":"2","f":335,"v":59.2},{"s":"2","f":345,"v":57.2},{"s":"2","f":355,"v":56.6},{"s":"2","f":365,"v":58.6},{"s":"2","f":376,"v":58.8},{"s":"2","f":387,"v":56.6},{"s":"2","f":398,"v":57.0},{"s":"2","f":410,"v":59.2},{"s":"2","f":422,"v":59.0},{"s":"2","f":434,"v":56.8},{"s":"2","f":447,"v":56.2},{"s":"2","f":460,"v":58.0},{"s":"2","f":473,"v":57.4},{"s":"2","f":487,"v":55.8},{"s":"2","f":501,"v":55.6},{"s":"2","f":516,"v":57.6},{"s":"2","f":531,"v":57.0},{"s":"2","f":546,"v":58.6},{"s":"2","f":562,"v":60.2},{"s":"2","f":579,"v":58.8},{"s":"2","f":596,"v":57.6},{"s":"2","f":613,"v":56.8},{"s":"2","f":631,"v":55.4},{"s":"2","f":649,"v":55.8},{"s":"2","f":668,"v":53.0},{"s":"2","f":688,"v":53.6},{"s":"2","f":708,"v":51.8},{"s":"2","f":729,"v":52.2},{"s":"2","f":750,"v":50.4},{"s":"2","f":772,"v":50.8},{"s":"2","f":794,"v":48.6},{"s":"2","f":818,"v":48.8},{"s":"2","f":841,"v":46.8},{"s":"2","f":866,"v":46.4},{"s":"2","f":891,"v":44.8},{"s":"2","f":917,"v":44.0},{"s":"2","f":944,"v":42.0},{"s":"2","f":972,"v":41.2},{"s":"2","f":1000,"v":39.6}
]
},
"concat": [
{
 "width": 486, "height": 294,
 "encoding": {
  "x": {"field": "f", "type": "quantitative", "scale": {"type": "log", "domain": [10, 1000], "nice": false},
   "axis": {"title": "f, Гц", "values": [10,20,30,40,50,60,70,80,90,100,200,300,400,500,600,700,800,900,1000], "labelExpr": "datum.value == 10 || datum.value == 100 || datum.value == 1000 ? '' + datum.value : ''", "titleX": 228, "titleY": 68, "labelPadding": 24, "labelOverlap": false}},
  "y": {"field": "v", "type": "quantitative", "scale": {"domain": [30, 90], "nice": false, "zero": false},
   "axis": {"title": "P, дБ", "values": [30,40,50,60,70,80,90], "titleX": 0, "titleY": -22, "labelPadding": 19, "labelOverlap": false}}
 },
 "layer": [
  {"data": {"name": "p"}, "mark": {"type": "line", "strokeWidth": 1.3, "interpolate": "monotone"},
   "encoding": {"color": {"field": "s", "type": "nominal", "scale": {"domain": ["1","2"], "range": ["#2C2E7E", "#F03FE3"]}, "legend": null}}},
  {"data": {"values": [{"f":19.5,"v":77.8,"f2":24.8,"v2":84.0},{"f":46.2,"v":68.6,"f2":106,"v2":73.3}]},
   "mark": {"type": "rule", "color": "#000000", "strokeWidth": 2},
   "encoding": {"x2": {"field": "f2"}, "y2": {"field": "v2"}}},
  {"data": {"values": [{"f":21.9,"v":84.8,"t":"1"},{"f":106,"v":76.2,"t":"2"}]},
   "mark": {"type": "text", "fontSize": 18, "fontWeight": "bold", "color": "#000000"},
   "encoding": {"text": {"field": "t"}}}
 ]
},
{
 "width": 468, "height": 286,
 "encoding": {
  "x": {"field": "f", "type": "quantitative", "scale": {"type": "log", "domain": [10, 1000], "nice": false},
   "axis": {"title": "f, Гц", "values": [10,20,30,40,50,60,70,80,90,100,200,300,400,500,600,700,800,900,1000], "labelExpr": "datum.value == 10 || datum.value == 100 || datum.value == 1000 ? '' + datum.value : ''", "titleX": 222, "titleY": 70, "labelPadding": 25, "labelOverlap": false}},
  "y": {"field": "v", "type": "quantitative", "scale": {"domain": [30, 110], "nice": false, "zero": false},
   "axis": {"title": "Vx, дБ", "values": [30,40,50,60,70,80,90,100,110], "titleX": -4, "titleY": -22, "labelPadding": 22, "labelOverlap": false}}
 },
 "layer": [
  {"data": {"name": "vx"}, "mark": {"type": "line", "strokeWidth": 1.3, "interpolate": "monotone"},
   "encoding": {"color": {"field": "s", "type": "nominal", "scale": {"domain": ["1","2"], "range": ["#2C2E7E", "#F03FE3"]}, "legend": null}}},
  {"data": {"values": [{"f":22.7,"v":97.0,"f2":25.7,"v2":105.8},{"f":26.2,"v":86.6,"f2":49.5,"v2":94.0}]},
   "mark": {"type": "rule", "color": "#000000", "strokeWidth": 2},
   "encoding": {"x2": {"field": "f2"}, "y2": {"field": "v2"}}},
  {"data": {"values": [{"f":28.0,"v":105.4,"t":"2"},{"f":50.7,"v":97.7,"t":"1"}]},
   "mark": {"type": "text", "fontSize": 18, "fontWeight": "bold", "color": "#000000"},
   "encoding": {"text": {"field": "t"}}}
 ]
},
{
 "width": 465, "height": 278,
 "encoding": {
  "x": {"field": "f", "type": "quantitative", "scale": {"type": "log", "domain": [10, 1000], "nice": false},
   "axis": {"title": "f, Гц", "values": [10,20,30,40,50,60,70,80,90,100,200,300,400,500,600,700,800,900,1000], "labelExpr": "datum.value == 10 || datum.value == 100 || datum.value == 1000 ? '' + datum.value : ''", "titleX": 229, "titleY": 76, "labelPadding": 28, "labelOverlap": false}},
  "y": {"field": "v", "type": "quantitative", "scale": {"domain": [30, 110], "nice": false, "zero": false},
   "axis": {"title": "Vy, дБ", "values": [30,40,50,60,70,80,90,100,110], "titleX": -18, "titleY": -24, "labelPadding": 22, "labelOverlap": false}}
 },
 "layer": [
  {"data": {"name": "vy"}, "mark": {"type": "line", "strokeWidth": 1.3, "interpolate": "monotone"},
   "encoding": {"color": {"field": "s", "type": "nominal", "scale": {"domain": ["1","2"], "range": ["#2C2E7E", "#F03FE3"]}, "legend": null}}},
  {"data": {"values": [{"f":20.3,"v":85.6,"f2":22.4,"v2":104.1},{"f":25.6,"v":86.3,"f2":32.3,"v2":94.4}]},
   "mark": {"type": "rule", "color": "#000000", "strokeWidth": 2},
   "encoding": {"x2": {"field": "f2"}, "y2": {"field": "v2"}}},
  {"data": {"values": [{"f":23.8,"v":106.7,"t":"1"},{"f":34.6,"v":96.8,"t":"2"}]},
   "mark": {"type": "text", "fontSize": 18, "fontWeight": "bold", "color": "#000000"},
   "encoding": {"text": {"field": "t"}}}
 ]
},
{
 "width": 464, "height": 273,
 "encoding": {
  "x": {"field": "f", "type": "quantitative", "scale": {"type": "log", "domain": [10, 1000], "nice": false},
   "axis": {"title": "f, Гц", "values": [10,20,30,40,50,60,70,80,90,100,200,300,400,500,600,700,800,900,1000], "labelExpr": "datum.value == 10 || datum.value == 100 || datum.value == 1000 ? '' + datum.value : ''", "titleX": 222, "titleY": 72, "labelPadding": 27, "labelOverlap": false}},
  "y": {"field": "v", "type": "quantitative", "scale": {"domain": [30, 120], "nice": false, "zero": false},
   "axis": {"title": "Vz, дБ", "values": [30,40,50,60,70,80,90,100,110,120], "titleX": -6, "titleY": -24, "labelPadding": 21, "labelOverlap": false}}
 },
 "layer": [
  {"data": {"name": "vz"}, "mark": {"type": "line", "strokeWidth": 1.3, "interpolate": "monotone"},
   "encoding": {"color": {"field": "s", "type": "nominal", "scale": {"domain": ["1","2"], "range": ["#2C2E7E", "#F03FE3"]}, "legend": null}}},
  {"data": {"values": [{"f":17.9,"v":104.4,"f2":25.5,"v2":111.4},{"f":19.6,"v":84.2,"f2":32.7,"v2":94.6}]},
   "mark": {"type": "rule", "color": "#000000", "strokeWidth": 2},
   "encoding": {"x2": {"field": "f2"}, "y2": {"field": "v2"}}},
  {"data": {"values": [{"f":29.0,"v":113.9,"t":"2"},{"f":35.3,"v":97.1,"t":"1"}]},
   "mark": {"type": "text", "fontSize": 18, "fontWeight": "bold", "color": "#000000"},
   "encoding": {"text": {"field": "t"}}}
 ]
}
]
}
